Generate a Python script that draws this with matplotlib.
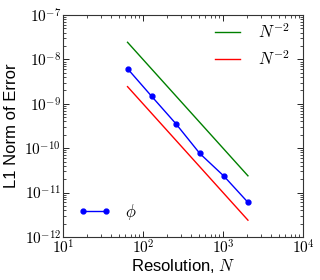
import matplotlib
matplotlib.use('Agg')
import matplotlib.pyplot as plt
from matplotlib.ticker import FuncFormatter
import numpy as np

# resolution and L1 error for phi
resolution = [64, 128, 256, 512, 1024, 2048]
err_phi = [6.2e-9, 1.48e-9, 3.6e-10, 7.6e-11, 2.35e-11, 6.0e-12]

# N^-2 reference lines (end points)
ref_n = [64, 2048]
ref_green = [2.44e-8, 2.38e-11]
ref_red = [2.44e-9, 2.38e-12]

plt.rcParams['mathtext.fontset'] = 'cm'
plt.rcParams['font.family'] = ['Liberation Sans', 'DejaVu Sans']
plt.rcParams['xtick.direction'] = 'in'
plt.rcParams['ytick.direction'] = 'in'
plt.rcParams['xtick.top'] = True
plt.rcParams['ytick.right'] = True

fig = plt.figure(figsize=(3.2, 2.8), dpi=100)
ax = fig.add_axes([0.197, 0.154, 0.75, 0.792])

l_phi, = ax.plot(resolution, err_phi, color='b', marker='o', markersize=3.5, lw=1.0)
l_g, = ax.plot(ref_n, ref_green, color='g', lw=1.0)
l_r, = ax.plot(ref_n, ref_red, color='r', lw=1.0)

ax.set_xscale('log')
ax.set_yscale('log')
ax.set_xlim(10, 1e4)
ax.set_ylim(1e-12, 1e-7)

# CM style power-of-ten labels
pow_fmt = FuncFormatter(lambda v, p: r'$10^{%d}$' % int(round(np.log10(v))))
ax.xaxis.set_major_formatter(pow_fmt)
ax.yaxis.set_major_formatter(pow_fmt)

ax.tick_params(which='major', length=4, width=0.6, labelsize=11, pad=1.5)
ax.tick_params(which='minor', length=2, width=0.5)
for s in ax.spines.values():
    s.set_linewidth(0.8)
    s.set_color('#333333')

ax.set_xlabel('Resolution, $N$', fontsize=12)
ax.xaxis.set_label_coords(0.5, -0.09)
ax.set_ylabel('L1 Norm of Error', fontsize=12)
ax.yaxis.set_label_coords(-0.185, 0.5)

leg1 = ax.legend([l_g, l_r], ['$N^{-2}$', '$N^{-2}$'], loc='upper right',
                 bbox_to_anchor=(1.0, 1.03), frameon=False, fontsize=12,
                 handlelength=1.5, borderaxespad=0.4, labelspacing=0.5,
                 handletextpad=1.1)
ax.add_artist(leg1)
ax.legend([l_phi], [r'$\phi$'], loc='lower left', frameon=False, fontsize=12,
          numpoints=2, handlelength=2.0, handletextpad=0.8, borderaxespad=0.5)

fig.savefig('out.png', dpi=100)
